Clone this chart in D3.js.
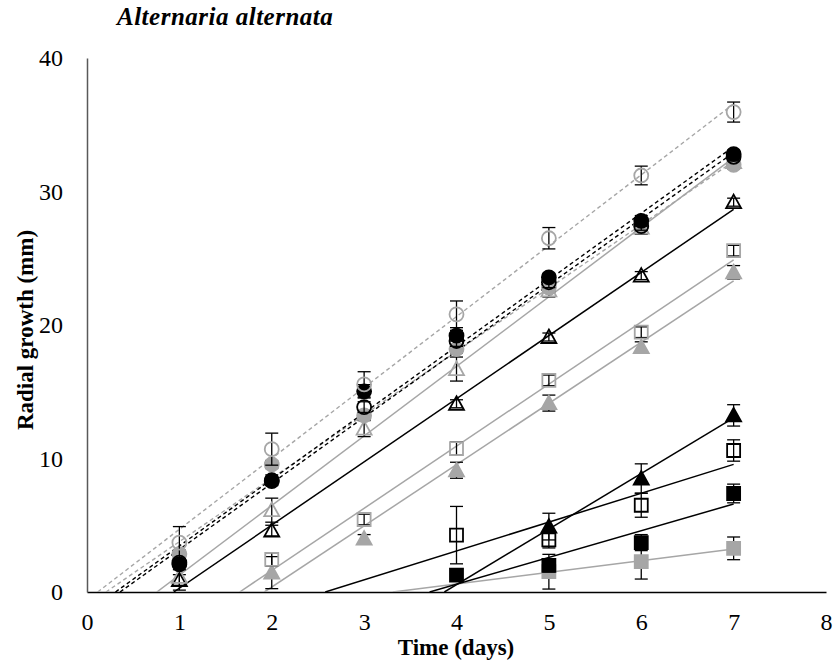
<!DOCTYPE html>
<html><head><meta charset="utf-8">
<script src="https://cdn.jsdelivr.net/npm/d3@7"></script>
<style>
html,body{margin:0;padding:0;background:#fff;}
svg text{font-family:"Liberation Serif","Times New Roman",serif !important;}
</style></head>
<body>
<svg id="chart" width="836" height="666"></svg>
<script>
// ---------------- data ----------------
const days = [1, 2, 3, 4, 5, 6, 7];
const xTicks = [0, 1, 2, 3, 4, 5, 6, 7, 8];
const yTicks = [0, 10, 20, 30, 40];

const openGrayCircle     = [3.7, 10.7, 15.55, 20.8, 26.5, 31.2, 35.95];
const openGrayCircleErr  = [1.2, 1.2, 0.95, 1.0, 0.8, 0.7, 0.75];
const grayCircle         = [2.84, 9.55, 13.23, 18.2, 22.8, 27.5, 32.0];
const grayCircleErr      = [0.3, 0.3, 0.3, 0.3, 0.3, 0.3, 0.3];
const openBlackCircle    = [2.2, 8.3, 13.85, 18.8, 23.2, 27.4, 32.6];
const openBlackCircleErr = [0.3, 0.3, 0.4, 0.4, 0.4, 0.3, 0.3];
const blackCircle        = [2.07, 8.37, 15.03, 19.2, 23.57, 27.8, 32.8];
const blackCircleErr     = [0.4, 0.4, 0.5, 0.4, 0.3, 0.4, 0.3];
const openGrayTriangle   = [1.14, 6.13, 12.24, 16.7, 22.6, 27.3, 32.2];
const openGrayTriangleErr= [1.0, 0.9, 0.6, 0.9, 0.5, 0.5, 0.4];
const openBlackTriangle  = [0.9, 4.6, null, 14.1, 19.1, 23.7, 29.2];
const openBlackTriangleErr=[0.4, 0.4, null, 0.3, 0.3, 0.3, 0.3];
const openGraySquare     = [null, 2.44, 5.43, 10.74, 15.85, 19.46, 25.57];
const openGraySquareErr  = [null, 0.5, 0.4, 0.5, 0.4, 0.4, 0.4];
const grayTriangle       = [null, 1.45, 4.0, 9.12, 14.15, 18.34, 23.95];
const grayTriangleErr    = [null, 1.2, 0.3, 0.6, 0.6, 0.4, 0.5];
const blackTriangle      = [null, null, null, null, 4.9, 8.5, 13.23];
const blackTriangleErr   = [null, null, null, null, 1.0, 1.1, 0.8];
const openBlackSquare    = [null, null, null, 4.26, 3.9, 6.5, 10.6];
const openBlackSquareErr = [null, null, null, 2.15, 0.6, 0.9, 0.8];
const blackSquare        = [null, null, null, 1.27, 2.0, 3.7, 7.38];
const blackSquareErr     = [null, null, null, 0.3, 0.5, 0.6, 0.7];
const graySquare         = [null, null, null, null, 1.52, 2.27, 3.27];
const graySquareErr      = [null, null, null, null, 1.3, 1.3, 0.85];

// ---------------- styles ----------------
const GRAY = "#a6a6a6";
const FONT = "'Liberation Serif','Times New Roman',serif";
const series = [
  {v: graySquare,        e: graySquareErr,        shape: "square",   fill: GRAY,   stroke: GRAY,   line: GRAY,   dash: null},
  {v: blackSquare,       e: blackSquareErr,       shape: "square",   fill: "#000", stroke: "#000", line: "#000", dash: null},
  {v: openBlackSquare,   e: openBlackSquareErr,   shape: "square",   fill: "none", stroke: "#000", line: "#000", dash: null},
  {v: blackTriangle,     e: blackTriangleErr,     shape: "triangle", fill: "#000", stroke: "#000", line: "#000", dash: null},
  {v: grayTriangle,      e: grayTriangleErr,      shape: "triangle", fill: GRAY,   stroke: GRAY,   line: GRAY,   dash: null},
  {v: openGraySquare,    e: openGraySquareErr,    shape: "square",   fill: "none", stroke: GRAY,   line: GRAY,   dash: null},
  {v: openBlackTriangle, e: openBlackTriangleErr, shape: "triangle", fill: "none", stroke: "#000", line: "#000", dash: null},
  {v: openGrayTriangle,  e: openGrayTriangleErr,  shape: "triangle", fill: "none", stroke: GRAY,   line: GRAY,   dash: null},
  {v: grayCircle,        e: grayCircleErr,        shape: "circle",   fill: GRAY,   stroke: GRAY,   line: GRAY,   dash: "4,3"},
  {v: openBlackCircle,   e: openBlackCircleErr,   shape: "circle",   fill: "none", stroke: "#000", line: "#000", dash: "4,3"},
  {v: blackCircle,       e: blackCircleErr,       shape: "circle",   fill: "#000", stroke: "#000", line: "#000", dash: "4,3"},
  {v: openGrayCircle,    e: openGrayCircleErr,    shape: "circle",   fill: "none", stroke: GRAY,   line: GRAY,   dash: "4,3"}
];

// ---------------- layout ----------------
const svg = d3.select("#chart");
const x = d3.scaleLinear().domain([0, 8]).range([87, 826]);
const y = d3.scaleLinear().domain([0, 40]).range([592, 58]);

svg.append("defs").append("clipPath").attr("id", "plot")
  .append("rect").attr("x", x(0)).attr("y", y(40)).attr("width", x(8) - x(0)).attr("height", y(0) - y(40));

// axes
const xAxis = svg.append("g").attr("transform", `translate(0,${y(0)})`)
  .call(d3.axisBottom(x).tickValues(xTicks).tickSize(0).tickPadding(21).tickFormat(d3.format("d")));
xAxis.attr("font-family", FONT).attr("font-size", 24);
xAxis.select(".domain").attr("stroke", "#000").attr("stroke-width", 1.5);
xAxis.selectAll("text").style("font-family", FONT).style("font-size", "24px").attr("fill", "#000");

const yAxis = svg.append("g").attr("transform", `translate(${x(0)},0)`)
  .call(d3.axisLeft(y).tickValues(yTicks).tickSize(0).tickPadding(24).tickFormat(d3.format("d")));
yAxis.attr("font-family", FONT).attr("font-size", 24);
yAxis.select(".domain").attr("stroke", "#595959").attr("stroke-width", 1.5);
yAxis.selectAll("text").style("font-family", FONT).style("font-size", "24px").attr("fill", "#000");

// titles
svg.append("text").attr("x", 117).attr("y", 25).style("font-family", FONT).style("font-size", "25px")
  .style("letter-spacing", "0.5px").attr("font-weight", "bold").attr("font-style", "italic")
  .text("Alternaria alternata");
svg.append("text").attr("x", 456).attr("y", 655).attr("text-anchor", "middle").style("font-family", FONT)
  .style("font-size", "23px").attr("font-weight", "bold").text("Time (days)");
svg.append("text").attr("transform", `translate(33,330) rotate(-90)`).attr("text-anchor", "middle")
  .style("font-family", FONT).style("font-size", "23px").attr("font-weight", "bold").text("Radial growth (mm)");

// trendlines (least squares through the plotted points, projected back to 0)
function fit(vals) {
  const pts = days.map((d, i) => [d, vals[i]]).filter(p => p[1] != null);
  const mx = d3.mean(pts, p => p[0]), my = d3.mean(pts, p => p[1]);
  const sxy = d3.sum(pts, p => (p[0] - mx) * (p[1] - my));
  const sxx = d3.sum(pts, p => (p[0] - mx) ** 2);
  const m = sxy / sxx;
  return {m, b: my - m * mx};
}
const lines = svg.append("g").attr("clip-path", "url(#plot)");
series.forEach(s => {
  const f = fit(s.v);
  const x0 = Math.max(0, -f.b / f.m);
  lines.append("line")
    .attr("x1", x(x0)).attr("y1", y(f.m * x0 + f.b))
    .attr("x2", x(7)).attr("y2", y(f.m * 7 + f.b))
    .attr("stroke", s.line).attr("stroke-width", s.dash ? 1.4 : 1.5)
    .attr("stroke-dasharray", s.dash);
});

// markers + error bars
function markerPath(shape) {
  if (shape === "circle") return d3.symbol(d3.symbolCircle, Math.PI * 7 * 7)();
  if (shape === "square") return "M-6.5,-6.5L6.5,-6.5L6.5,6.5L-6.5,6.5Z";
  return "M0,-7.5L7.5,6L-7.5,6Z";
}
series.forEach(s => {
  const g = svg.append("g");
  const pts = days.map((d, i) => ({d, v: s.v[i], e: s.e[i]})).filter(p => p.v != null);
  pts.forEach(p => {
    const cx = x(p.d);
    const lo = Math.max(0, p.v - p.e), hi = p.v + p.e;
    g.append("line").attr("x1", cx).attr("x2", cx).attr("y1", y(lo)).attr("y2", y(hi))
      .attr("stroke", "#000").attr("stroke-width", 1.3);
    [hi, p.v - p.e].forEach(t => {
      if (t < 0) return;
      g.append("line").attr("x1", cx - 6.5).attr("x2", cx + 6.5).attr("y1", y(t)).attr("y2", y(t))
        .attr("stroke", "#000").attr("stroke-width", 1.3);
    });
    g.append("path").attr("d", markerPath(s.shape))
      .attr("transform", `translate(${cx},${y(p.v)})`)
      .attr("fill", s.fill).attr("stroke", s.stroke).attr("stroke-width", 1.8);
  });
});
</script>
</body></html>
